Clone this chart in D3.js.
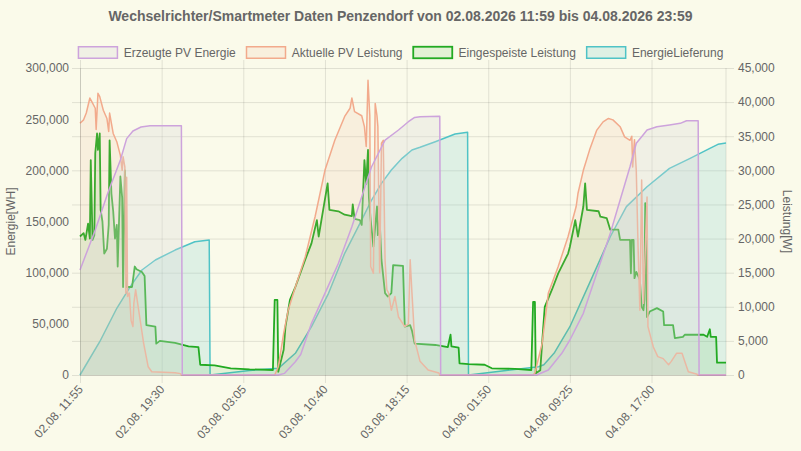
<!DOCTYPE html>
<html>
<head>
<meta charset="utf-8">
<script src="https://cdnjs.cloudflare.com/ajax/libs/d3/7.8.5/d3.min.js"></script>
<style>
  body { margin: 0; background: #fafaea; }
  text { font-family: "Liberation Sans", Arial, sans-serif; fill: #666; }
</style>
</head>
<body>
<div id="chart"></div>
<script>
// Chart data
// ==========================================
var titleText = "Wechselrichter/Smartmeter Daten Penzendorf von 02.08.2026 11:59 bis 04.08.2026 23:59";
var tickLabels = ["02.08. 11:55", "02.08. 19:30", "03.08. 03:05", "03.08. 10:40",
                  "03.08. 18:15", "04.08. 01:50", "04.08. 09:25", "04.08. 17:00"];
var timeRange = ["02.08. 11:55", "04.08. 23:55"];
var energyTicks = [0, 50000, 100000, 150000, 200000, 250000, 300000];
var powerTicks = [0, 5000, 10000, 15000, 20000, 25000, 30000, 35000, 40000, 45000];
var seriesNames = ["Erzeugte PV Energie", "Aktuelle PV Leistung", "Eingespeiste Leistung", "EnergieLieferung"];

// Erzeugte PV Energie [WH] (left axis)
var pvEnergie = [
  ["02.08. 11:55", 102600], ["02.08. 13:20", 141700], ["02.08. 14:30", 177900], ["02.08. 15:40", 210100],
  ["02.08. 16:15", 231000], ["02.08. 16:50", 238400], ["02.08. 17:35", 242300], ["02.08. 18:25", 243600],
  ["02.08. 21:20", 243600], ["02.08. 21:25", 0],
  ["03.08. 06:20", 0], ["03.08. 06:55", 1600], ["03.08. 07:55", 13000], ["03.08. 08:25", 20000],
  ["03.08. 09:25", 50500], ["03.08. 10:40", 79800], ["03.08. 11:55", 109100], ["03.08. 13:10", 144900],
  ["03.08. 14:05", 174200], ["03.08. 15:00", 203500], ["03.08. 16:15", 229600], ["03.08. 17:30", 239400],
  ["03.08. 18:25", 247500], ["03.08. 19:00", 251700], ["03.08. 19:30", 252400], ["03.08. 21:20", 252800],
  ["03.08. 21:25", 0],
  ["04.08. 06:20", 0], ["04.08. 07:25", 4900], ["04.08. 08:40", 21200], ["04.08. 09:25", 34200],
  ["04.08. 10:40", 60300], ["04.08. 11:55", 99400], ["04.08. 13:10", 138400], ["04.08. 14:05", 171000],
  ["04.08. 15:00", 203500], ["04.08. 15:35", 226400], ["04.08. 16:05", 232900], ["04.08. 16:35", 239400],
  ["04.08. 17:30", 242600], ["04.08. 18:40", 244300], ["04.08. 19:40", 245900], ["04.08. 20:15", 248500],
  ["04.08. 21:20", 248500], ["04.08. 21:25", 0], ["04.08. 23:55", 0]
];

// Aktuelle PV Leistung [W] (right axis)
var pvLeistung = [
  ["02.08. 11:55", 36900], ["02.08. 12:15", 37400], ["02.08. 12:30", 38400], ["02.08. 12:50", 40600],
  ["02.08. 13:00", 40100], ["02.08. 13:20", 39100], ["02.08. 13:25", 36000], ["02.08. 13:35", 41300],
  ["02.08. 13:45", 40800], ["02.08. 14:05", 38800], ["02.08. 14:25", 37600], ["02.08. 14:35", 35700],
  ["02.08. 14:40", 38400], ["02.08. 15:00", 35400], ["02.08. 15:20", 34200], ["02.08. 15:40", 32200],
  ["02.08. 15:50", 30000], ["02.08. 15:55", 32000], ["02.08. 16:05", 30500], ["02.08. 16:10", 12000],
  ["02.08. 16:15", 29000], ["02.08. 16:20", 11500], ["02.08. 16:30", 12000], ["02.08. 16:40", 8000],
  ["02.08. 16:50", 7100], ["02.08. 16:55", 10500], ["02.08. 17:05", 12500], ["02.08. 17:30", 8100],
  ["02.08. 17:50", 4600], ["02.08. 18:15", 1200], ["02.08. 18:35", 480], ["02.08. 20:45", 340],
  ["02.08. 21:15", 200], ["02.08. 21:20", 0],
  ["03.08. 06:00", 0], ["03.08. 06:20", 1200], ["03.08. 06:50", 6100], ["03.08. 07:15", 9500],
  ["03.08. 07:55", 12900], ["03.08. 08:50", 17300], ["03.08. 09:45", 23200], ["03.08. 10:40", 30000],
  ["03.08. 11:35", 34400], ["03.08. 12:30", 37900], ["03.08. 13:00", 39100], ["03.08. 13:10", 40600],
  ["03.08. 13:25", 38600], ["03.08. 14:05", 38000], ["03.08. 14:20", 36400], ["03.08. 14:30", 33500],
  ["03.08. 14:40", 43200], ["03.08. 14:50", 38000], ["03.08. 14:55", 15900], ["03.08. 15:10", 14900],
  ["03.08. 15:20", 39800], ["03.08. 15:30", 38000], ["03.08. 15:35", 36400], ["03.08. 15:45", 15000],
  ["03.08. 15:55", 34000], ["03.08. 16:05", 34400], ["03.08. 16:15", 16900], ["03.08. 16:25", 12500],
  ["03.08. 16:35", 12000], ["03.08. 16:50", 9500], ["03.08. 17:10", 11500], ["03.08. 17:30", 8500],
  ["03.08. 18:05", 7100], ["03.08. 18:25", 7500], ["03.08. 18:35", 16900], ["03.08. 18:45", 12000],
  ["03.08. 19:00", 5100], ["03.08. 19:30", 2000], ["03.08. 20:15", 730], ["03.08. 21:15", 300],
  ["03.08. 21:20", 0],
  ["04.08. 06:00", 0], ["04.08. 06:10", 300], ["04.08. 06:50", 4600], ["04.08. 07:25", 12000],
  ["04.08. 08:20", 15900], ["04.08. 09:15", 20300], ["04.08. 10:00", 24700], ["04.08. 10:10", 26600],
  ["04.08. 10:40", 30000], ["04.08. 11:15", 33000], ["04.08. 11:55", 35900], ["04.08. 12:30", 37100],
  ["04.08. 13:00", 37600], ["04.08. 13:25", 37400], ["04.08. 14:05", 36400], ["04.08. 14:30", 34900],
  ["04.08. 15:00", 34400], ["04.08. 15:10", 35000], ["04.08. 15:15", 30500], ["04.08. 15:25", 34500],
  ["04.08. 15:35", 30000], ["04.08. 15:45", 18800], ["04.08. 15:55", 9500], ["04.08. 16:05", 28600],
  ["04.08. 16:15", 10500], ["04.08. 16:35", 26100], ["04.08. 16:40", 7100], ["04.08. 16:50", 6100],
  ["04.08. 17:10", 4100], ["04.08. 17:35", 2700], ["04.08. 18:05", 2400], ["04.08. 18:35", 1500],
  ["04.08. 18:50", 2000], ["04.08. 19:20", 3200], ["04.08. 19:50", 3200], ["04.08. 20:05", 2000],
  ["04.08. 20:25", 480], ["04.08. 21:10", 150], ["04.08. 21:20", 0], ["04.08. 23:55", 0]
];

// Eingespeiste Leistung [W] (right axis)
var eingespeist = [
  ["02.08. 11:55", 20300], ["02.08. 12:15", 20800], ["02.08. 12:25", 19800], ["02.08. 12:40", 22200],
  ["02.08. 12:50", 20000], ["02.08. 12:55", 31500], ["02.08. 13:05", 19800], ["02.08. 13:15", 20500],
  ["02.08. 13:20", 32500], ["02.08. 13:30", 35400], ["02.08. 13:35", 33000], ["02.08. 13:45", 35400],
  ["02.08. 13:50", 24200], ["02.08. 14:00", 22500], ["02.08. 14:10", 17800], ["02.08. 14:25", 18500],
  ["02.08. 14:35", 22000], ["02.08. 14:40", 34400], ["02.08. 14:50", 26600], ["02.08. 15:00", 24000],
  ["02.08. 15:10", 20000], ["02.08. 15:20", 22000], ["02.08. 15:25", 15900], ["02.08. 15:40", 29100],
  ["02.08. 15:50", 26000], ["02.08. 15:55", 12900], ["02.08. 16:05", 30000], ["02.08. 16:15", 12900],
  ["02.08. 16:45", 12900], ["02.08. 17:00", 15900], ["02.08. 17:10", 15500], ["02.08. 17:40", 15100],
  ["02.08. 17:55", 14500], ["02.08. 18:05", 7300], ["02.08. 18:55", 7100], ["02.08. 19:00", 4600],
  ["02.08. 19:20", 5000], ["02.08. 20:45", 4700], ["02.08. 22:00", 4200], ["02.08. 22:55", 4100],
  ["02.08. 23:05", 1500], ["03.08. 00:25", 1400], ["03.08. 01:55", 980], ["03.08. 03:40", 830],
  ["03.08. 05:50", 730], ["03.08. 06:00", 11000], ["03.08. 06:15", 11000], ["03.08. 06:20", 480],
  ["03.08. 06:50", 3700], ["03.08. 07:00", 7100], ["03.08. 07:25", 11000], ["03.08. 07:55", 12900],
  ["03.08. 08:50", 16900], ["03.08. 09:25", 19300], ["03.08. 09:55", 22700], ["03.08. 10:05", 20300],
  ["03.08. 10:30", 24200], ["03.08. 10:55", 28100], ["03.08. 11:05", 24200], ["03.08. 11:55", 24000],
  ["03.08. 12:30", 23500], ["03.08. 13:10", 23300], ["03.08. 13:15", 25000], ["03.08. 13:25", 22900],
  ["03.08. 13:55", 22700], ["03.08. 14:05", 22000], ["03.08. 14:20", 31500], ["03.08. 14:30", 28000],
  ["03.08. 14:40", 33000], ["03.08. 14:45", 26000], ["03.08. 14:55", 22700], ["03.08. 15:10", 18800],
  ["03.08. 15:30", 24700], ["03.08. 15:35", 20500], ["03.08. 15:45", 22700], ["03.08. 15:55", 16900],
  ["03.08. 16:15", 12000], ["03.08. 16:30", 11500], ["03.08. 16:50", 12000], ["03.08. 17:00", 16100],
  ["03.08. 17:55", 16000], ["03.08. 18:05", 7100], ["03.08. 18:35", 7300], ["03.08. 18:45", 6500],
  ["03.08. 19:00", 4600], ["03.08. 20:55", 4400], ["03.08. 22:05", 4100], ["03.08. 22:20", 5900],
  ["03.08. 22:25", 4200], ["03.08. 23:05", 4000], ["03.08. 23:10", 1700], ["04.08. 00:00", 1600],
  ["04.08. 01:30", 1500], ["04.08. 02:10", 980], ["04.08. 04:20", 900], ["04.08. 05:50", 730],
  ["04.08. 06:00", 10700], ["04.08. 06:10", 10700], ["04.08. 06:15", 250], ["04.08. 06:40", 700],
  ["04.08. 06:50", 4600], ["04.08. 07:05", 10000], ["04.08. 07:45", 12500], ["04.08. 08:20", 14900],
  ["04.08. 09:15", 17800], ["04.08. 09:25", 18800], ["04.08. 09:55", 22700], ["04.08. 10:10", 20300],
  ["04.08. 10:40", 24700], ["04.08. 10:50", 28100], ["04.08. 11:00", 24200], ["04.08. 12:05", 24000],
  ["04.08. 12:15", 23200], ["04.08. 12:50", 23000], ["04.08. 13:10", 21300], ["04.08. 13:55", 21300],
  ["04.08. 14:05", 19800], ["04.08. 15:00", 19800], ["04.08. 15:05", 14900], ["04.08. 15:10", 19800],
  ["04.08. 15:20", 19800], ["04.08. 15:25", 14200], ["04.08. 15:35", 15100], ["04.08. 15:55", 14000],
  ["04.08. 16:05", 10000], ["04.08. 16:15", 9500], ["04.08. 16:20", 11000], ["04.08. 16:25", 25200],
  ["04.08. 16:35", 8500], ["04.08. 16:50", 9300], ["04.08. 17:30", 9800], ["04.08. 18:05", 9300],
  ["04.08. 18:10", 7300], ["04.08. 19:00", 7300], ["04.08. 19:10", 5400], ["04.08. 19:55", 5600],
  ["04.08. 20:05", 5900], ["04.08. 21:50", 5900], ["04.08. 22:10", 5600], ["04.08. 22:25", 6700],
  ["04.08. 22:30", 5600], ["04.08. 23:00", 5600], ["04.08. 23:05", 1800], ["04.08. 23:55", 1800]
];

// EnergieLieferung [WH] (left axis)
var lieferung = [
  ["02.08. 11:55", 0], ["02.08. 13:45", 32500], ["02.08. 15:20", 65200], ["02.08. 16:35", 86300],
  ["02.08. 17:40", 102600], ["02.08. 18:55", 112400], ["02.08. 20:45", 122100], ["02.08. 22:35", 130200],
  ["02.08. 23:55", 132000], ["03.08. 00:00", 0], ["03.08. 03:40", 4500], ["03.08. 06:20", 6500],
  ["03.08. 07:55", 21200], ["03.08. 09:25", 47200], ["03.08. 11:00", 79800], ["03.08. 12:30", 118900],
  ["03.08. 14:05", 151500], ["03.08. 15:00", 171000], ["03.08. 15:55", 187300], ["03.08. 16:50", 200300],
  ["03.08. 17:50", 211700], ["03.08. 18:45", 219900], ["03.08. 19:30", 222500], ["03.08. 20:55", 228000],
  ["03.08. 22:45", 235500], ["03.08. 23:55", 237300], ["04.08. 00:00", 0], ["04.08. 03:30", 4500],
  ["04.08. 06:30", 8000], ["04.08. 07:00", 10000], ["04.08. 08:00", 22000], ["04.08. 09:25", 47200],
  ["04.08. 11:15", 90000], ["04.08. 13:10", 135100], ["04.08. 14:40", 164500], ["04.08. 16:35", 184000],
  ["04.08. 18:40", 201900], ["04.08. 20:35", 211700], ["04.08. 22:25", 221500], ["04.08. 23:10", 225400],
  ["04.08. 23:55", 226600]
];

// Set up the chart
// ================
var svgWidth = 801;
var svgHeight = 451;
var margin = { top: 68, right: 75, bottom: 76, left: 80 };
var width = svgWidth - margin.left - margin.right;
var height = svgHeight - margin.top - margin.bottom;

var svg = d3.select("#chart")
  .append("svg")
  .attr("width", svgWidth)
  .attr("height", svgHeight)
  .style("display", "block");

svg.append("rect")
  .attr("width", svgWidth)
  .attr("height", svgHeight)
  .attr("fill", "#fafaea");

var chartGroup = svg.append("g")
  .attr("transform", `translate(${margin.left}, ${margin.top})`);

var parseTime = d3.utcParse("%d.%m. %H:%M");

// Scales
var xScale = d3.scaleUtc()
  .domain(timeRange.map(parseTime))
  .range([0, width]);

var yEnergy = d3.scaleLinear()
  .domain([0, 300000])
  .range([height, 0]);

var yPower = d3.scaleLinear()
  .domain([0, 45000])
  .range([height, 0]);

var fmt = d3.format(",");

// Grid (horizontal lines come from the right axis)
var gridColor = "rgba(0,0,0,0.1)";
chartGroup.append("g")
  .attr("transform", `translate(${width}, 0)`)
  .call(d3.axisRight(yPower).tickValues(powerTicks).tickSize(-width - 8).tickFormat(""))
  .call(g => g.select(".domain").remove())
  .call(g => g.selectAll("line").attr("stroke", gridColor).attr("x1", 8));

chartGroup.append("g")
  .attr("transform", `translate(0, ${height})`)
  .call(d3.axisBottom(xScale)
    .tickValues(tickLabels.map(parseTime))
    .tickSize(-height - 8)
    .tickFormat(""))
  .call(g => g.select(".domain").remove())
  .call(g => g.selectAll("line").attr("stroke", gridColor).attr("y1", 8));

// right border line
chartGroup.append("line")
  .attr("x1", width).attr("x2", width)
  .attr("y1", 0).attr("y2", height)
  .attr("stroke", gridColor);

// Series (drawn last first, like the original)
var series = [
  { name: seriesNames[0], data: pvEnergie, y: yEnergy, line: "#cda3dc", fill: "rgba(220,220,220,0.3)", w: 1.5 },
  { name: seriesNames[1], data: pvLeistung, y: yPower, line: "#f2aa8c", fill: "rgba(242,170,140,0.13)", w: 1.5 },
  { name: seriesNames[2], data: eingespeist, y: yPower, line: "#22aa22", fill: "rgba(34,170,34,0.1)", w: 1.8 },
  { name: seriesNames[3], data: lieferung, y: yEnergy, line: "#4fc3c6", fill: "rgba(79,195,198,0.16)", w: 1.5 }
];

series.slice().reverse().forEach(function(s) {
  var area = d3.area()
    .x(d => xScale(parseTime(d[0])))
    .y0(s.y(0))
    .y1(d => s.y(d[1]));
  var line = d3.line()
    .x(d => xScale(parseTime(d[0])))
    .y(d => s.y(d[1]));

  chartGroup.append("path")
    .datum(s.data)
    .attr("d", area)
    .attr("fill", s.fill);

  chartGroup.append("path")
    .datum(s.data)
    .attr("d", line)
    .attr("fill", "none")
    .attr("stroke", s.line)
    .attr("stroke-width", s.w)
    .attr("stroke-linejoin", "round");
});

// Axes
var leftAxis = chartGroup.append("g")
  .call(d3.axisLeft(yEnergy).tickValues(energyTicks).tickFormat(fmt).tickSize(0).tickPadding(11));
leftAxis.select(".domain").attr("stroke", gridColor);

var rightAxis = chartGroup.append("g")
  .attr("transform", `translate(${width}, 0)`)
  .call(d3.axisRight(yPower).tickValues(powerTicks).tickFormat(fmt).tickSize(0).tickPadding(12));
rightAxis.select(".domain").remove();

var bottomAxis = chartGroup.append("g")
  .attr("transform", `translate(0, ${height})`)
  .call(d3.axisBottom(xScale).tickValues(tickLabels.map(parseTime)).tickSize(0).tickFormat((d, i) => tickLabels[i]));
bottomAxis.select(".domain").attr("stroke", gridColor);
bottomAxis.selectAll("text")
  .attr("y", 0)
  .attr("dy", "0.35em")
  .attr("text-anchor", "end")
  .attr("transform", "translate(0, 12) rotate(-48)");

chartGroup.selectAll(".tick text")
  .style("font-family", "\"Liberation Sans\", Arial, sans-serif")
  .style("font-size", "12px")
  .attr("fill", "#666");

// Axis titles
chartGroup.append("text")
  .attr("transform", "rotate(-90)")
  .attr("x", -height / 2)
  .attr("y", -margin.left + 15)
  .attr("text-anchor", "middle")
  .style("font-size", "12px")
  .text("Energie[WH]");

chartGroup.append("text")
  .attr("transform", "rotate(90)")
  .attr("x", height / 2)
  .attr("y", -(width + margin.right - 18))
  .attr("text-anchor", "middle")
  .style("font-size", "12px")
  .text("Leistung[W]");

// Title
svg.append("text")
  .attr("x", svgWidth / 2)
  .attr("y", 21)
  .attr("text-anchor", "middle")
  .style("font-size", "14px")
  .style("font-weight", "bold")
  .text(titleText);

// Legend
var legend = svg.append("g");
var lx = 0;
series.forEach(function(s) {
  var item = legend.append("g").attr("transform", `translate(${lx}, 0)`);
  item.append("rect")
    .attr("x", 0.75).attr("y", 46.75)
    .attr("width", 39).attr("height", 11.5)
    .attr("fill", s.fill)
    .attr("stroke", s.line)
    .attr("stroke-width", s.w);
  var t = item.append("text")
    .attr("x", 46)
    .attr("y", 57)
    .style("font-size", "12px")
    .text(s.name);
  lx += 46 + t.node().getComputedTextLength() + 10;
});
legend.attr("transform", `translate(${(svgWidth - (lx - 10)) / 2}, 0)`);
</script>
</body>
</html>
